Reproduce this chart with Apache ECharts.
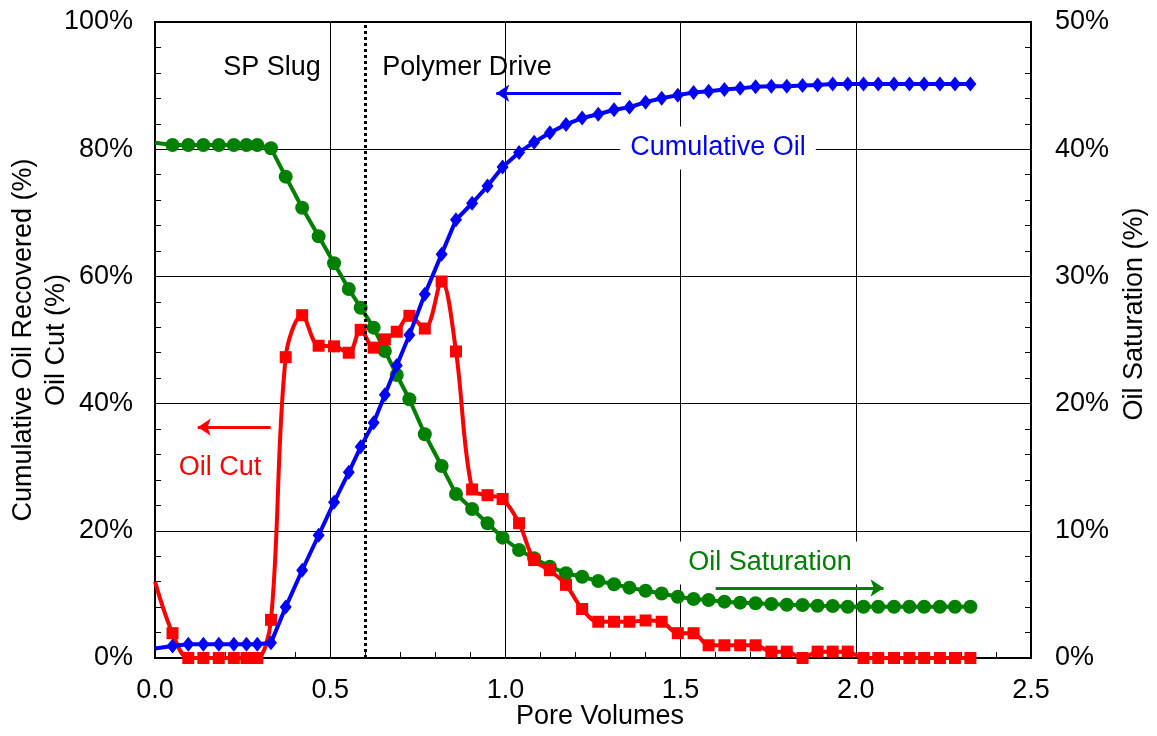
<!DOCTYPE html>
<html>
<head>
<meta charset="utf-8">
<script src="https://cdn.jsdelivr.net/npm/echarts@6/dist/echarts.min.js"></script>
<style>
html,body{margin:0;padding:0;background:#fff;}
#c{width:1157px;height:736px;}
</style>
</head>
<body>
<div id="c"></div>
<script>
// Pore volumes (shared x values)
const poreVolumes = [0, 0.050, 0.095, 0.138, 0.182, 0.225, 0.261, 0.292, 0.331, 0.373,
  0.420, 0.467, 0.511, 0.553, 0.587, 0.624, 0.656, 0.690, 0.726, 0.770,
  0.818, 0.859, 0.905, 0.949, 0.992, 1.039, 1.082, 1.127, 1.173, 1.219,
  1.265, 1.310, 1.354, 1.400, 1.446, 1.492, 1.537, 1.580, 1.625, 1.670,
  1.714, 1.759, 1.803, 1.848, 1.891, 1.934, 1.977, 2.022, 2.064, 2.109,
  2.153, 2.195, 2.240, 2.283, 2.327];
// Cumulative oil recovered (%)
const cumulativeOil = [1.5, 1.9, 2.15, 2.15, 2.15, 2.15, 2.15, 2.15, 2.4, 8.0,
  13.8, 19.3, 24.5, 29.2, 33.2, 37.0, 41.4, 46.0, 50.8, 57.2,
  63.5, 68.9, 71.5, 74.2, 77.2, 79.5, 81.1, 82.6, 83.9, 84.9,
  85.5, 86.2, 86.6, 87.4, 88.0, 88.5, 88.9, 89.1, 89.4, 89.6,
  89.8, 89.9, 89.9, 90.0, 90.1, 90.25, 90.25, 90.25, 90.25, 90.25,
  90.25, 90.25, 90.25, 90.25, 90.25];
// Oil cut (%)
const oilCut = [12.0, 3.9, 0, 0, 0, 0, 0, 0, 6.0, 47.3,
  53.9, 49.1, 49.0, 48.0, 51.6, 48.8, 50.1, 51.3, 53.8, 51.8,
  59.2, 48.2, 26.5, 25.6, 25.0, 21.2, 15.4, 13.8, 11.5, 7.7,
  5.7, 5.7, 5.7, 5.9, 5.7, 3.9, 3.9, 2.0, 2.0, 2.0,
  2.0, 1.0, 1.0, 0, 1.0, 1.0, 1.0, 0, 0, 0,
  0, 0, 0, 0, 0];
// Oil saturation (%)
const oilSaturation = [40.5, 40.33, 40.33, 40.33, 40.33, 40.33, 40.33, 40.33, 40.07, 37.84,
  35.40, 33.15, 31.03, 29.01, 27.54, 25.97, 24.14, 22.25, 20.34, 17.59,
  15.09, 12.89, 11.71, 10.59, 9.46, 8.49, 7.84, 7.18, 6.66, 6.39,
  6.05, 5.80, 5.53, 5.29, 5.07, 4.82, 4.64, 4.56, 4.43, 4.35,
  4.30, 4.25, 4.19, 4.17, 4.11, 4.09, 4.03, 4.03, 4.03, 4.03,
  4.03, 4.03, 4.03, 4.03, 4.03];

const xTicks = [0, 0.5, 1.0, 1.5, 2.0, 2.5];
const leftTicks = [0, 20, 40, 60, 80, 100];
const rightTicks = [0, 10, 20, 30, 40, 50];

const FONT = "'Liberation Sans', Arial, sans-serif";
const FS = 27;
const BLUE = '#0000FF', RED = '#FF0000', GREEN = '#008000';

function pairs(vals) {
  return vals.map((v, i) => i === 0 ? {value: [poreVolumes[i], v], symbol: 'none'} : [poreVolumes[i], v]);
}

const chart = echarts.init(document.getElementById('c'), null, {renderer: 'canvas'});

const axisCommon = {
  axisLine: {show: true, onZero: false, lineStyle: {color: '#000', width: 2}},
  axisTick: {show: true, inside: true, length: 6, lineStyle: {color: '#000', width: 1}},
  minorTick: {show: true, splitNumber: 5, length: 6, lineStyle: {color: '#000', width: 1}},
  axisLabel: {color: '#000', fontSize: FS, fontFamily: FONT}
};

const font = FS + 'px ' + FONT;

chart.setOption({
  animation: false,
  backgroundColor: '#fff',
  grid: {left: 155, top: 22, right: 126, bottom: 78, show: true, borderColor: '#000', borderWidth: 2, containLabel: false},
  xAxis: Object.assign({}, axisCommon, {
    type: 'value', min: xTicks[0], max: xTicks[xTicks.length - 1], interval: 0.5,
    axisLabel: Object.assign({}, axisCommon.axisLabel, {margin: 19, formatter: v => v.toFixed(1)}),
    splitLine: {show: true, lineStyle: {color: '#000', width: 1}}
  }),
  yAxis: [
    Object.assign({}, axisCommon, {
      type: 'value', min: leftTicks[0], max: leftTicks[leftTicks.length - 1], interval: 20,
      axisLabel: Object.assign({}, axisCommon.axisLabel, {margin: 22, formatter: v => v + '%'}),
      splitLine: {show: true, lineStyle: {color: '#000', width: 1}}
    }),
    Object.assign({}, axisCommon, {
      type: 'value', position: 'right', min: rightTicks[0], max: rightTicks[rightTicks.length - 1], interval: 10,
      axisLabel: Object.assign({}, axisCommon.axisLabel, {margin: 24, formatter: v => v + '%'}),
      splitLine: {show: false}
    })
  ],
  series: [
    {
      name: 'Oil Saturation', type: 'line', yAxisIndex: 1, data: pairs(oilSaturation),
      symbol: 'circle', symbolSize: 14, showAllSymbol: true,
      lineStyle: {color: GREEN, width: 4}, itemStyle: {color: GREEN},
      emphasis: {disabled: true}, z: 3,
      markLine: {
        silent: true, symbol: ['none', 'arrow'], symbolSize: 13,
        label: {show: false}, lineStyle: {color: GREEN, width: 3, type: 'solid'},
        data: [[{coord: [1.600, 5.5]}, {coord: [2.079, 5.5]}]]
      }
    },
    {
      name: 'Oil Cut', type: 'line', yAxisIndex: 0, data: pairs(oilCut),
      smooth: 0.35, symbol: 'rect', symbolSize: 12, showAllSymbol: true,
      lineStyle: {color: RED, width: 4}, itemStyle: {color: RED},
      emphasis: {disabled: true}, z: 4,
      markLine: {
        silent: true, symbol: ['none', 'arrow'], symbolSize: 13,
        label: {show: false}, lineStyle: {color: RED, width: 3, type: 'solid'},
        data: [[{coord: [0.330, 36.3]}, {coord: [0.122, 36.3]}]]
      }
    },
    {
      name: 'Cumulative Oil', type: 'line', yAxisIndex: 0, data: pairs(cumulativeOil),
      symbol: 'diamond', symbolSize: [12, 15], showAllSymbol: true,
      lineStyle: {color: BLUE, width: 4}, itemStyle: {color: BLUE},
      emphasis: {disabled: true}, z: 5,
      markLine: {
        silent: true, symbol: ['none', 'arrow'], symbolSize: 13,
        label: {show: false}, lineStyle: {color: BLUE, width: 3, type: 'solid'},
        data: [[{coord: [1.33, 88.8]}, {coord: [0.974, 88.8]}]]
      }
    },
    {
      name: 'divider', type: 'line', yAxisIndex: 0, data: [], silent: true,
      markLine: {
        silent: true, symbol: ['none', 'none'],
        label: {show: false}, lineStyle: {color: '#000', width: 3, type: [3, 3]},
        data: [{xAxis: 0.6}]
      }
    }
  ],
  graphic: [
    {type: 'text', x: 272, y: 68, style: {text: 'SP Slug', fill: '#000', font: font, textAlign: 'center', textVerticalAlign: 'middle'}},
    {type: 'text', x: 467, y: 68, style: {text: 'Polymer Drive', fill: '#000', font: font, textAlign: 'center', textVerticalAlign: 'middle'}},
    {type: 'text', x: 718, y: 148, z: 10, style: {text: 'Cumulative Oil', fill: BLUE, font: font, textAlign: 'center', textVerticalAlign: 'middle', backgroundColor: '#fff', padding: [8, 10]}},
    {type: 'text', x: 220, y: 468, style: {text: 'Oil Cut', fill: RED, font: font, textAlign: 'center', textVerticalAlign: 'middle'}},
    {type: 'text', x: 770, y: 563, z: 10, style: {text: 'Oil Saturation', fill: GREEN, font: font, textAlign: 'center', textVerticalAlign: 'middle', backgroundColor: '#fff', padding: [8, 9]}},
    {type: 'text', x: 24, y: 340, rotation: Math.PI / 2, style: {text: 'Cumulative Oil Recovered (%)', fill: '#000', font: font, textAlign: 'center', textVerticalAlign: 'middle'}},
    {type: 'text', x: 57, y: 340, rotation: Math.PI / 2, style: {text: 'Oil Cut (%)', fill: '#000', font: font, textAlign: 'center', textVerticalAlign: 'middle'}},
    {type: 'text', x: 1135, y: 314, rotation: Math.PI / 2, style: {text: 'Oil Saturation (%)', fill: '#000', font: font, textAlign: 'center', textVerticalAlign: 'middle'}},
    {type: 'text', x: 600, y: 717, style: {text: 'Pore Volumes', fill: '#000', font: font, textAlign: 'center', textVerticalAlign: 'middle'}}
  ]
});
</script>
</body>
</html>
